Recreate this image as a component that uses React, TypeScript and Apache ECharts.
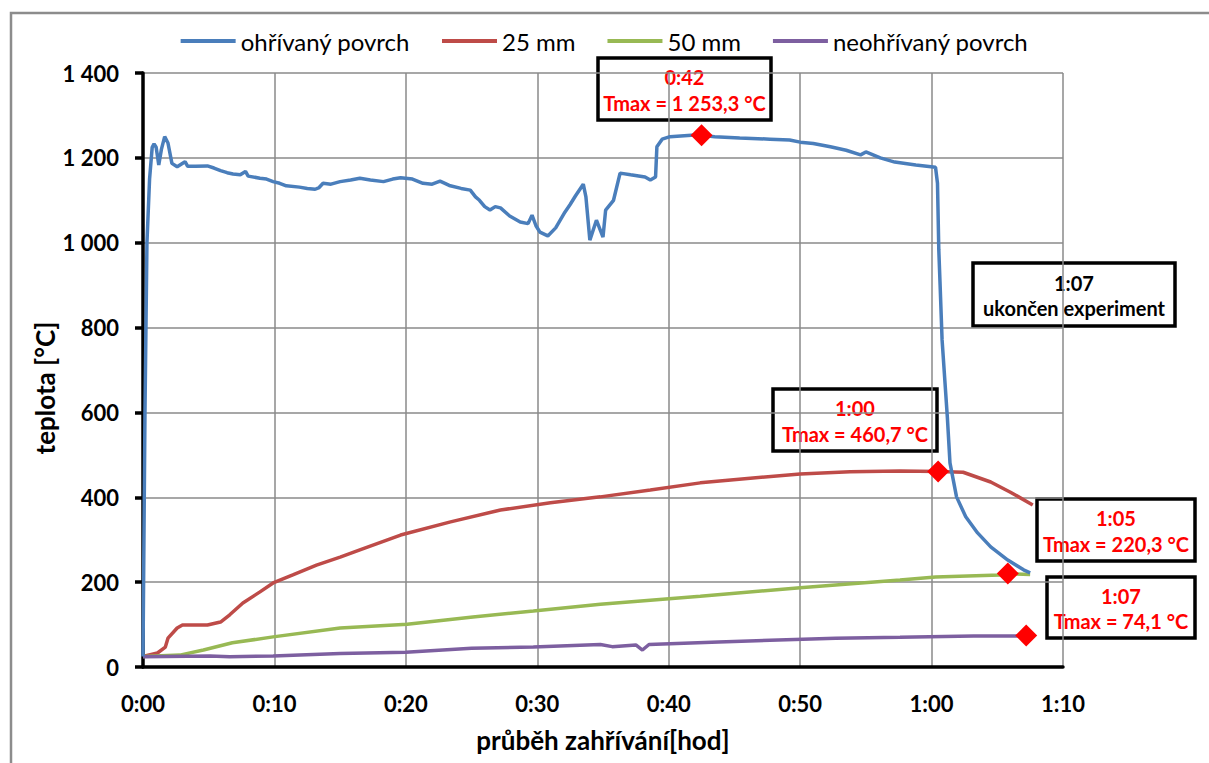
import React, { useEffect, useRef } from "react";
import * as echarts from "echarts";

const seriesNames = ["ohřívaný povrch", "25 mm", "50 mm", "neohřívaný povrch"];
const seriesColors = ["#4A7EBB", "#BE4B48", "#98B954", "#7D5FA0"];

// time in minutes, temperature in °C
const surfT = [0, 0.15, 0.3, 0.5, 0.7, 0.84, 1.0, 1.2, 1.4, 1.65, 1.9, 2.2, 2.6, 2.9, 3.2, 3.4, 4.0, 4.9, 5.4, 5.9, 6.4, 6.85, 7.4, 7.8, 8.0, 8.9, 9.4, 9.9, 10.4, 10.9, 11.9, 12.5, 13.1, 13.4, 13.7, 14.3, 15.0, 15.8, 16.5, 17.3, 18.3, 19.0, 19.6, 20.5, 21.3, 22.0, 22.6, 23.3, 24.2, 24.9, 25.3, 25.6, 26.0, 26.4, 26.8, 27.2, 27.9, 28.7, 29.3, 29.6, 29.9, 30.2, 30.8, 31.4, 32.1, 32.5, 32.9, 33.5, 33.7, 34.0, 34.5, 35.0, 35.2, 35.8, 36.3, 37.1, 38.2, 38.6, 39.0, 39.1, 39.5, 40.1, 42.0, 42.5, 43.5, 45.4, 47.7, 49.2, 50.0, 51.0, 52.3, 53.5, 54.6, 55.0, 56.1, 57.2, 58.8, 60.3, 60.45, 60.55, 60.65, 60.8, 61.2, 61.4, 61.9, 62.6, 63.5, 64.5, 65.8, 67.0, 67.5];
const surfV = [25, 600, 1000, 1150, 1225, 1233, 1225, 1183, 1220, 1250, 1235, 1187, 1179, 1185, 1191, 1180, 1180, 1181, 1176, 1170, 1165, 1162, 1160, 1168, 1157, 1152, 1150, 1144, 1140, 1134, 1131, 1128, 1126, 1130, 1140, 1138, 1144, 1148, 1152, 1148, 1144, 1150, 1153, 1150, 1140, 1138, 1145, 1135, 1128, 1124, 1108, 1100, 1085, 1077, 1085, 1082, 1063, 1049, 1045, 1065, 1040, 1025, 1016, 1035, 1072, 1090, 1110, 1138, 1108, 1006, 1053, 1013, 1077, 1100, 1164, 1160, 1155, 1148, 1155, 1226, 1244, 1250, 1254, 1253, 1250, 1247, 1244, 1242, 1237, 1234, 1226, 1218, 1207, 1214, 1200, 1190, 1183, 1178, 1140, 983, 900, 771, 589, 481, 401, 354, 316, 283, 252, 229, 222];

const mm25T = [0, 0.15, 1.1, 1.7, 1.9, 2.6, 3.0, 4.9, 5.9, 6.6, 7.6, 8.9, 9.9, 11.4, 13.2, 15.0, 16.5, 19.6, 23.4, 27.2, 31.0, 34.8, 38.6, 42.4, 46.2, 50.0, 53.8, 57.6, 60.5, 62.4, 64.5, 66.0, 67.7];
const mm25V = [25, 26, 33, 47, 68, 92, 99, 99, 106, 123, 151, 177, 198, 217, 240, 259, 276, 311, 342, 370, 387, 401, 417, 434, 445, 455, 460, 462, 461, 459, 436, 412, 382];

const mm50T = [0, 2.8, 4.6, 6.8, 9.9, 15, 20.1, 25.1, 29.7, 34.8, 42.4, 50, 57.6, 60.3, 65.2, 65.8, 67.5];
const mm50V = [25, 28, 40, 57, 71, 92, 101, 118, 132, 148, 167, 187, 205, 212, 217, 220, 218];

const coldT = [0, 5.1, 6.6, 9.9, 15, 20, 25, 29.7, 34.8, 35.7, 37.5, 38.0, 38.5, 43.8, 52.7, 57.6, 63.2, 66.4, 67.2];
const coldV = [24, 26, 24, 26, 32, 35, 44, 47, 53, 48, 52, 40, 53, 59, 68, 70, 73, 73, 74];

const maxT = [42.5, 60.5, 65.8, 67.2];
const maxV = [1253.3, 460.7, 220.3, 74.1];

const xTicks = { min: 0, max: 70, interval: 10 };
const yTicks = { min: 0, max: 1400, interval: 200 };

const FONT = "Lato, 'DejaVu Sans', sans-serif";

function fmtTime(v: number): string {
  const h = Math.floor(v / 60);
  const m = Math.round(v % 60);
  return `${h}:${String(m).padStart(2, "0")}`;
}
function fmtTemp(v: number): string {
  if (v >= 1000) {
    const s = String(v);
    return s.slice(0, s.length - 3) + " " + s.slice(-3);
  }
  return String(v);
}

function box(x: number, y: number, w: number, h: number, l1: string, l2: string, color: string) {
  return {
    type: "group",
    z: 100,
    children: [
      { type: "rect", shape: { x, y, width: w, height: h }, style: { fill: "#fff", stroke: "#000", lineWidth: 3.5 } },
      { type: "text", style: { text: l1, x: x + w / 2, y: y + h * 0.31, align: "center", verticalAlign: "middle", fill: color, font: `bold 20px ${FONT}` } },
      { type: "text", style: { text: l2, x: x + w / 2, y: y + h * 0.72, align: "center", verticalAlign: "middle", fill: color, font: `bold 20px ${FONT}` } },
    ],
  };
}

export default function App() {
  const ref = useRef<HTMLDivElement>(null);
  useEffect(() => {
    if (!ref.current) return;
    const chart = echarts.init(ref.current, null, { renderer: "svg" });
    const zip = (t: number[], v: number[]) => t.map((x, i) => [x, v[i]]);
    const lineData = [zip(surfT, surfV), zip(mm25T, mm25V), zip(mm50T, mm50V), zip(coldT, coldV)];
    chart.setOption({
      animation: false,
      backgroundColor: "#fff",
      textStyle: { fontFamily: FONT },
      grid: { left: 143, right: 146, top: 73, bottom: 96, containLabel: false },
      legend: {
        data: seriesNames,
        top: 24,
        left: "center",
        icon: "rect",
        itemWidth: 55,
        itemHeight: 4,
        itemGap: 32,
        textStyle: { fontSize: 24, color: "#000", fontFamily: FONT },
      },
      xAxis: {
        type: "value",
        min: xTicks.min,
        max: xTicks.max,
        interval: xTicks.interval,
        name: "průběh zahřívání[hod]",
        nameLocation: "middle",
        nameGap: 60,
        nameTextStyle: { fontSize: 26, fontWeight: "bold", color: "#000" },
        axisLine: { show: true, onZero: false, lineStyle: { color: "#000", width: 3.5 } },
        axisTick: { show: false },
        axisLabel: { formatter: fmtTime, fontSize: 22, fontWeight: "bold", color: "#000", margin: 25 },
        splitLine: { show: true, lineStyle: { color: "#8a8a8a", width: 1.5 } },
      },
      yAxis: {
        type: "value",
        min: yTicks.min,
        max: yTicks.max,
        interval: yTicks.interval,
        axisLine: { show: true, lineStyle: { color: "#000", width: 3.5 } },
        axisTick: { show: true, length: 8, lineStyle: { color: "#000", width: 3.5 } },
        axisLabel: { formatter: fmtTemp, fontSize: 22, fontWeight: "bold", color: "#000", margin: 24 },
        splitLine: { show: true, lineStyle: { color: "#8a8a8a", width: 1.5 } },
      },
      series: [
        ...seriesNames.map((n, i) => ({
          name: n,
          type: "line",
          data: lineData[i],
          showSymbol: false,
          symbol: "none",
          color: seriesColors[i],
          lineStyle: { color: seriesColors[i], width: 3.5 },
          z: 2 + (i === 0 ? 1 : 0),
        })),
        {
          name: "Tmax",
          type: "scatter",
          data: zip(maxT, maxV),
          symbol: "diamond",
          symbolSize: 22,
          itemStyle: { color: "#FF0000", opacity: 1 },
          z: 5,
        },
      ],
      graphic: [
        { type: "rect", silent: true, z: 0, shape: { x: 11, y: 13, width: 1260, height: 820 }, style: { fill: "none", stroke: "#8c8c8c", lineWidth: 2.5 } },
        { type: "text", silent: true, x: 45, y: 388, rotation: Math.PI / 2, style: { text: "teplota [°C]", align: "center", verticalAlign: "middle", fill: "#000", font: `bold 26px ${FONT}` } },
        box(598, 58, 173, 62, "0:42", "Tmax = 1 253,3 °C", "#FF0000"),
        box(773, 389, 164, 62, "1:00", "Tmax = 460,7 °C", "#FF0000"),
        box(973, 263, 202, 63, "1:07", "ukončen experiment", "#000"),
        box(1037, 499, 158, 62, "1:05", "Tmax = 220,3 °C", "#FF0000"),
        box(1047, 577, 148, 61, "1:07", "Tmax = 74,1 °C", "#FF0000"),
      ],
    });
    return () => chart.dispose();
  }, []);
  return <div ref={ref} style={{ position: "fixed", left: 0, top: 0, width: 1209, height: 763 }} />;
}
